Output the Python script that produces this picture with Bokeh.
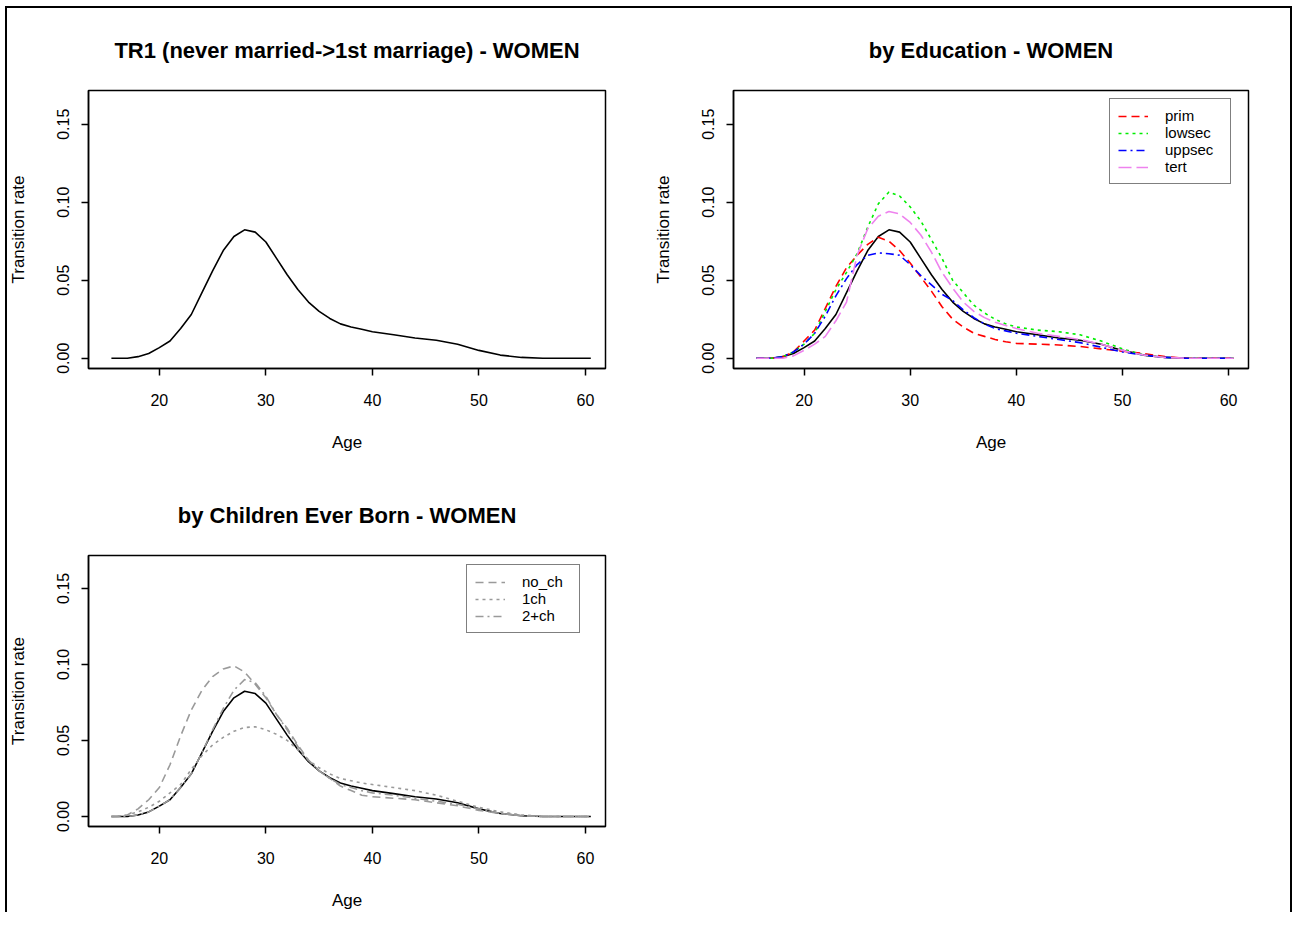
from bokeh.plotting import figure
from bokeh.layouts import column, row
from bokeh.models import Range1d, FixedTicker, NumeralTickFormatter, Legend, LegendItem
from bokeh.embed import file_html
from bokeh.resources import INLINE

# ---------------- data ----------------
age = [15.5, 16, 17, 18, 19, 20, 21, 22, 23, 24, 25, 26, 27, 28, 29, 30, 31, 32, 33, 34,
       35, 36, 37, 38, 39, 40, 42, 44, 46, 48, 50, 52, 54, 56, 58, 60.5]

total = [0, 0, 0, 0.001, 0.003, 0.0068, 0.011, 0.019, 0.028, 0.042, 0.056, 0.069, 0.078, 0.0823,
         0.0808, 0.0745, 0.064, 0.0535, 0.044, 0.036, 0.030, 0.0255, 0.022, 0.020, 0.0185, 0.017,
         0.015, 0.013, 0.0115, 0.009, 0.005, 0.002, 0.0005, 0, 0, 0]

prim = [0, 0, 0, 0.001, 0.004, 0.011, 0.018, 0.032, 0.046, 0.058, 0.066, 0.073, 0.0775, 0.075,
        0.069, 0.061, 0.052, 0.043, 0.033, 0.025, 0.020, 0.016, 0.014, 0.012, 0.0105, 0.0095,
        0.009, 0.0085, 0.0075, 0.006, 0.0045, 0.003, 0.001, 0, 0, 0]

lowsec = [0, 0, 0, 0.001, 0.004, 0.009, 0.016, 0.030, 0.044, 0.055, 0.067, 0.084, 0.099, 0.1065,
          0.104, 0.097, 0.088, 0.076, 0.064, 0.050, 0.042, 0.034, 0.029, 0.025, 0.022, 0.020,
          0.018, 0.017, 0.015, 0.011, 0.006, 0.002, 0.0005, 0, 0, 0]

uppsec = [0, 0, 0, 0.001, 0.004, 0.009, 0.016, 0.027, 0.040, 0.051, 0.060, 0.066, 0.0675, 0.067,
          0.066, 0.060, 0.053, 0.047, 0.041, 0.037, 0.031, 0.026, 0.022, 0.019, 0.0175, 0.016,
          0.014, 0.012, 0.010, 0.007, 0.004, 0.002, 0.0005, 0, 0, 0]

tert = [0, 0, 0, 0, 0.0015, 0.005, 0.009, 0.014, 0.024, 0.036, 0.066, 0.083, 0.091, 0.094,
        0.0925, 0.087, 0.079, 0.068, 0.055, 0.045, 0.036, 0.030, 0.026, 0.023, 0.021, 0.019,
        0.016, 0.014, 0.012, 0.009, 0.005, 0.002, 0.0005, 0, 0, 0]

no_ch = [0, 0, 0.001, 0.005, 0.011, 0.019, 0.034, 0.053, 0.070, 0.083, 0.092, 0.097, 0.099, 0.095,
         0.087, 0.078, 0.067, 0.058, 0.047, 0.037, 0.030, 0.025, 0.020, 0.017, 0.014, 0.013,
         0.012, 0.011, 0.009, 0.007, 0.004, 0.002, 0.0005, 0, 0, 0]

ch1 = [0, 0, 0.001, 0.003, 0.006, 0.010, 0.0155, 0.021, 0.031, 0.040, 0.047, 0.052, 0.056, 0.0585,
       0.059, 0.057, 0.054, 0.050, 0.044, 0.037, 0.032, 0.028, 0.025, 0.0235, 0.022, 0.021,
       0.019, 0.017, 0.014, 0.010, 0.006, 0.003, 0.001, 0, 0, 0]

ch2p = [0, 0, 0, 0.001, 0.003, 0.0068, 0.011, 0.019, 0.028, 0.042, 0.057, 0.071, 0.083, 0.090,
        0.088, 0.079, 0.067, 0.057, 0.046, 0.037, 0.030, 0.025, 0.021, 0.019, 0.017, 0.0155,
        0.014, 0.012, 0.010, 0.008, 0.005, 0.002, 0.0005, 0, 0, 0]

x_ticks = [20, 30, 40, 50, 60]
y_ticks = [0.0, 0.05, 0.10, 0.15]

titles = ["TR1 (never married->1st marriage) - WOMEN", "by Education - WOMEN",
          "by Children Ever Born - WOMEN"]
edu_labels = ["prim", "lowsec", "uppsec", "tert"]
ceb_labels = ["no_ch", "1ch", "2+ch"]

FONT = "Liberation Sans"


def base(title, w, h, fl, ft, fw, fh):
    p = figure(width=w, height=h, output_backend="svg", toolbar_location=None,
               title=title,
               x_range=Range1d(13.35, 61.88), y_range=Range1d(-0.0066, 0.1716),
               min_border_left=fl, min_border_top=ft,
               min_border_right=w - fl - fw, min_border_bottom=h - ft - fh,
               border_fill_color=None, background_fill_color=None)
    p.title.align = "center"
    p.title.text_font = FONT
    p.title.text_font_size = "22px"
    p.title.text_font_style = "bold"
    p.title.text_color = "black"
    p.title.standoff = 56
    p.grid.visible = False
    p.outline_line_color = "black"
    p.outline_line_width = 1.5
    p.outline_line_alpha = 1
    p.xaxis.ticker = FixedTicker(ticks=x_ticks)
    p.yaxis.ticker = FixedTicker(ticks=y_ticks)
    p.yaxis.formatter = NumeralTickFormatter(format="0.00")
    p.xaxis.axis_label = "Age"
    p.yaxis.axis_label = "Transition rate"
    for ax in p.axis:
        ax.axis_line_color = "black"
        ax.axis_line_width = 1.5
        ax.major_tick_line_color = "black"
        ax.major_tick_line_width = 1.5
        ax.major_tick_out = 7
        ax.major_tick_in = 0
        ax.minor_tick_line_color = None
        ax.major_label_text_font = FONT
        ax.major_label_text_font_size = "16px"
        ax.major_label_text_color = "black"
        ax.axis_label_text_font = FONT
        ax.axis_label_text_font_size = "17px"
        ax.axis_label_text_font_style = "normal"
        ax.axis_label_text_color = "black"
    p.xaxis.major_label_standoff = 18
    p.xaxis.axis_label_standoff = 24
    p.yaxis.major_label_orientation = "vertical"
    p.yaxis.major_label_standoff = 12
    p.yaxis.axis_label_standoff = 27
    return p


def style_legend(leg, label_w):
    leg.border_line_color = "black"
    leg.border_line_width = 1.8
    leg.background_fill_color = "white"
    leg.background_fill_alpha = 1
    leg.padding = 8
    leg.spacing = 0
    leg.margin = 0
    leg.label_height = 16
    leg.glyph_height = 16
    leg.glyph_width = 30
    leg.label_width = label_w
    leg.label_standoff = 17
    leg.label_text_font = FONT
    leg.label_text_font_size = "15px"
    leg.label_text_color = "black"


LW = 1.6

# panel 1
p1 = base(titles[0], 650, 472, 88, 90, 517, 278)
p1.line(age, total, line_color="black", line_width=LW)

# panel 2
p2 = base(titles[1], 642, 472, 80, 90, 518, 278)
p2.line(age, total, line_color="black", line_width=LW)
edu_series = [prim, lowsec, uppsec, tert]
edu_colors = ["#ff0000", "#00ee00", "#0000ff", "#ee82ee"]
edu_dash = ["8 5", "3 4", "8 4 2 4", "13 5"]
items2 = []
for lab, ys, c, d in zip(edu_labels, edu_series, edu_colors, edu_dash):
    r = p2.line(age, ys, line_color=c, line_width=LW, line_dash=d)
    items2.append(LegendItem(label=lab, renderers=[r]))
leg2 = Legend(items=items2, location=(376, 184))
style_legend(leg2, 57)
p2.add_layout(leg2)

# panel 3
p3 = base(titles[2], 650, 440, 88, 81, 517, 277)
p3.line(age, total, line_color="black", line_width=LW)
ceb_series = [no_ch, ch1, ch2p]
ceb_dash = ["8 5", "3 4", "8 4 2 4"]
items3 = []
for lab, ys, d in zip(ceb_labels, ceb_series, ceb_dash):
    r = p3.line(age, ys, line_color="#9a9a9a", line_width=LW, line_dash=d)
    items3.append(LegendItem(label=lab, renderers=[r]))
leg3 = Legend(items=items3, location=(378, 193))
style_legend(leg3, 49)
p3.add_layout(leg3)

layout = column(row(p1, p2), row(p3),
                styles={"box-shadow": "inset 5px 6px 0 0 #fff, inset 7px 8px 0 0 #000, "
                                      "inset -2px 0 0 0 #000",
                        "background": "white"})

open("out.html", "w").write(file_html(layout, INLINE))
